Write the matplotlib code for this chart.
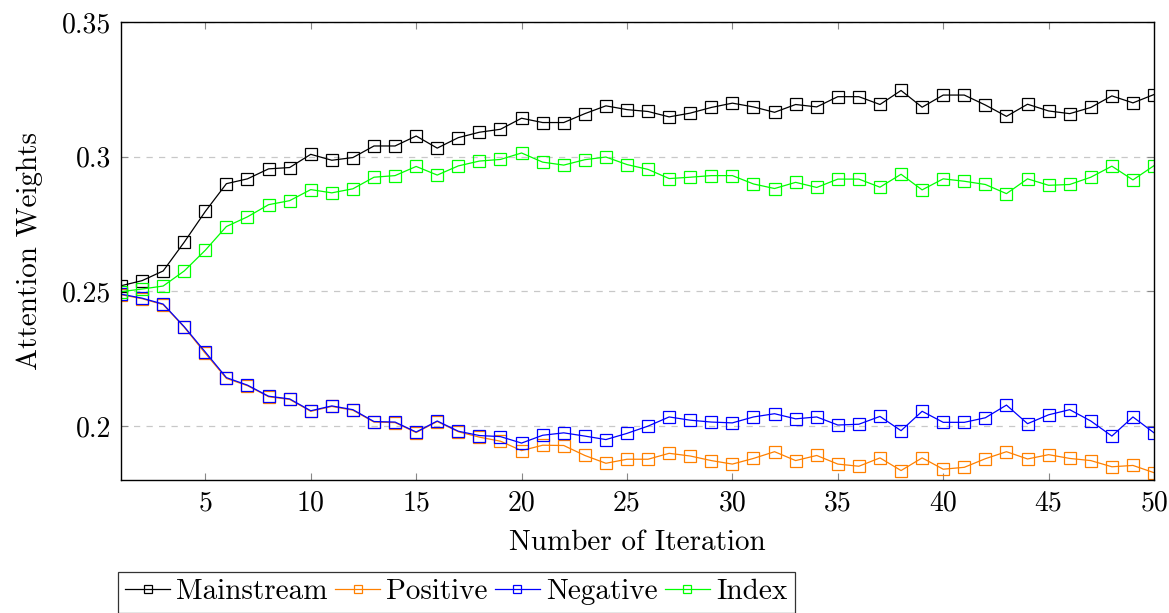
import matplotlib
matplotlib.use("Agg")
import matplotlib.pyplot as plt
import numpy as np

iterations = list(range(1, 51))
mainstream = [0.2521, 0.2540, 0.2576, 0.2683, 0.2797, 0.2900, 0.2918, 0.2955, 0.2960, 0.3009,
              0.2987, 0.2997, 0.3040, 0.3040, 0.3077, 0.3032, 0.3071, 0.3091, 0.3102, 0.3143,
              0.3127, 0.3127, 0.3160, 0.3189, 0.3175, 0.3168, 0.3148, 0.3162, 0.3183, 0.3199,
              0.3185, 0.3165, 0.3194, 0.3185, 0.3223, 0.3223, 0.3194, 0.3246, 0.3184, 0.3229,
              0.3229, 0.3192, 0.3150, 0.3195, 0.3170, 0.3160, 0.3183, 0.3226, 0.3200, 0.3231]
positive = [0.2488, 0.2473, 0.2451, 0.2367, 0.2270, 0.2177, 0.2150, 0.2109, 0.2099, 0.2055,
            0.2073, 0.2059, 0.2015, 0.2013, 0.1976, 0.2017, 0.1979, 0.1959, 0.1944, 0.1909,
            0.1929, 0.1928, 0.1891, 0.1862, 0.1877, 0.1877, 0.1899, 0.1889, 0.1872, 0.1859,
            0.1880, 0.1905, 0.1872, 0.1891, 0.1859, 0.1851, 0.1882, 0.1835, 0.1882, 0.1840,
            0.1847, 0.1879, 0.1905, 0.1878, 0.1894, 0.1880, 0.1872, 0.1849, 0.1854, 0.1827]
negative = [0.2490, 0.2475, 0.2453, 0.2369, 0.2275, 0.2180, 0.2152, 0.2111, 0.2101, 0.2057,
            0.2075, 0.2061, 0.2017, 0.2015, 0.1978, 0.2019, 0.1981, 0.1965, 0.1961, 0.1937,
            0.1966, 0.1975, 0.1963, 0.1950, 0.1973, 0.2000, 0.2034, 0.2022, 0.2015, 0.2012,
            0.2034, 0.2046, 0.2027, 0.2034, 0.2004, 0.2007, 0.2036, 0.1983, 0.2055, 0.2014,
            0.2014, 0.2031, 0.2078, 0.2009, 0.2042, 0.2061, 0.2019, 0.1963, 0.2034, 0.1975]
index = [0.2499, 0.2509, 0.2520, 0.2576, 0.2653, 0.2741, 0.2777, 0.2822, 0.2837, 0.2878,
         0.2866, 0.2881, 0.2924, 0.2930, 0.2964, 0.2932, 0.2966, 0.2984, 0.2990, 0.3014,
         0.2980, 0.2969, 0.2989, 0.2999, 0.2971, 0.2953, 0.2919, 0.2924, 0.2930, 0.2930,
         0.2899, 0.2882, 0.2905, 0.2886, 0.2917, 0.2917, 0.2887, 0.2935, 0.2877, 0.2918,
         0.2909, 0.2897, 0.2863, 0.2918, 0.2894, 0.2897, 0.2924, 0.2965, 0.2914, 0.2967]

series_names = ["Mainstream", "Positive", "Negative", "Index"]
series_colors = ["black", "#FF8000", "#0000FF", "#00FF00"]
xticks = [5, 10, 15, 20, 25, 30, 35, 40, 45, 50]
yticks = [0.2, 0.25, 0.3, 0.35]
ytick_labels = ["0.2", "0.25", "0.3", "0.35"]

plt.rcParams['font.family'] = 'serif'
plt.rcParams['font.serif'] = ['cmr10', 'DejaVu Serif']
plt.rcParams['mathtext.fontset'] = 'cm'
plt.rcParams['axes.formatter.use_mathtext'] = True

fig = plt.figure(figsize=(11.69, 6.13), dpi=100)
ax = fig.add_axes([0.1035, 0.217, 0.8837, 0.747])

for name, vals, col in zip(series_names, [mainstream, positive, negative, index], series_colors):
    ax.plot(iterations, vals, color=col, lw=0.9, marker='s', markersize=9,
            markerfacecolor='none', markeredgecolor=col, markeredgewidth=0.9, label=name)

ax.set_xlim(1, 50)
ax.set_ylim(0.18, 0.35)
ax.set_xticks(xticks)
ax.set_xticklabels([str(t) for t in xticks])
ax.set_yticks(yticks)
ax.set_yticklabels(ytick_labels)
ax.tick_params(direction='in', length=5, width=0.8, color='#888888', labelsize=20,
               top=True, right=True, pad=7)
for s in ax.spines.values():
    s.set_linewidth(1.0)
    s.set_color('black')
ax.yaxis.grid(True, linestyle=(0, (5, 5)), color='#c8c8c8', linewidth=0.9)
ax.set_axisbelow(True)

ax.set_xlabel("Number of Iteration", fontsize=21, labelpad=10)
ax.set_ylabel("Attention Weights", fontsize=21, labelpad=14)

leg = ax.legend(loc='upper left', bbox_to_anchor=(-0.003, -0.2), ncol=4, fontsize=21,
                frameon=True, fancybox=False, edgecolor='black', handlelength=1.55,
                handletextpad=0.2, columnspacing=0.25, borderpad=0.25, borderaxespad=0,
                markerscale=0.65)
leg.get_frame().set_linewidth(0.9)

fig.savefig("out.png", dpi=100)
